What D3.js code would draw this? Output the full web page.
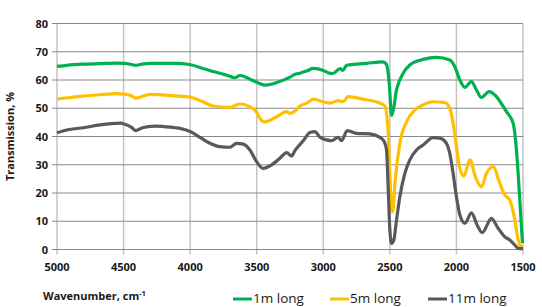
<!DOCTYPE html>
<html>
<head>
<meta charset="utf-8">
<script src="https://cdn.jsdelivr.net/npm/d3@7"></script>
<style>
  body { margin: 0; background: #fff; }
  svg text { font-family: "Open Sans", "Noto Sans", sans-serif; fill: #1a1a1a; }
  .tick-label { font-size: 11px; font-weight: bold; }
  .axis-title { font-size: 11px; font-weight: bold; }
  .legend-label { font-size: 13.5px; }
</style>
</head>
<body>
<div id="chart"></div>
<script>
// wavenumber (cm-1), transmission (%)
const series1m = [
  [5000,64.8],[4927,65.2],[4805,65.6],[4677,65.8],[4552,66.0],[4490,65.9],[4407,65.2],[4350,65.7],
  [4300,65.9],[4114,65.9],[3996,65.4],[3904,64.1],[3850,63.3],[3776,62.4],[3700,61.3],[3664,60.8],
  [3626,61.6],[3551,60.3],[3480,58.8],[3438,58.2],[3350,59.1],[3250,61.0],[3213,62.0],[3176,62.4],
  [3120,63.3],[3076,64.1],[3000,63.4],[2965,62.6],[2928,62.3],[2875,64.0],[2853,63.4],[2825,65.2],
  [2750,65.6],[2675,65.9],[2552,66.4],[2525,65.5],[2505,59.0],[2487,47.5],[2470,50.5],[2450,56.5],
  [2425,60.0],[2400,62.4],[2350,65.3],[2250,67.3],[2150,68.0],[2050,67.1],[2012,64.7],[1974,60.0],
  [1937,57.4],[1887,59.4],[1850,56.5],[1812,53.8],[1755,55.9],[1699,54.1],[1660,51.5],[1624,48.8],
  [1574,44.7],[1549,35.2],[1524,17.5],[1504,2.3]
];
const series5m = [
  [5000,53.3],[4900,53.8],[4805,54.3],[4677,54.8],[4552,55.2],[4490,55.0],[4440,54.4],[4407,53.6],
  [4302,54.9],[4114,54.4],[3996,53.9],[3904,52.3],[3829,50.8],[3701,50.3],[3651,51.2],[3626,51.5],
  [3551,50.6],[3500,48.5],[3476,46.4],[3438,45.2],[3350,47.0],[3275,48.8],[3250,48.2],[3213,49.0],
  [3176,50.8],[3125,51.8],[3076,53.2],[3000,52.3],[2950,51.8],[2888,52.7],[2850,52.3],[2813,54.1],
  [2700,53.2],[2575,51.8],[2537,50.8],[2512,41.0],[2500,26.0],[2487,14.5],[2478,13.3],[2462,23.4],
  [2425,37.6],[2375,45.2],[2312,49.4],[2250,51.2],[2175,52.3],[2087,52.0],[2050,50.0],[2025,44.7],
  [2000,36.4],[1974,28.7],[1944,26.0],[1899,31.7],[1854,25.2],[1812,22.2],[1774,27.0],[1724,29.3],
  [1674,23.4],[1637,19.3],[1599,17.5],[1561,10.4],[1536,3.4],[1511,1.0],[1500,1.0]
];
const series11m = [
  [5000,41.3],[4927,42.3],[4802,43.1],[4677,44.1],[4522,44.7],[4490,44.3],[4440,43.2],[4407,42.1],
  [4352,43.2],[4252,43.7],[4114,43.1],[4077,42.9],[3996,41.7],[3926,39.7],[3851,37.6],[3776,36.4],
  [3701,36.2],[3651,37.6],[3601,37.3],[3551,35.2],[3501,31.1],[3451,28.7],[3401,29.6],[3326,32.3],
  [3275,34.3],[3238,33.1],[3213,35.0],[3200,35.8],[3151,38.5],[3100,41.4],[3063,41.7],[3025,39.7],
  [2975,38.8],[2938,38.5],[2888,39.7],[2863,38.5],[2820,42.1],[2750,41.1],[2650,40.9],[2575,39.7],
  [2542,38.2],[2525,35.2],[2512,21.1],[2500,6.9],[2487,2.2],[2470,3.4],[2450,10.4],[2425,18.7],
  [2387,27.0],[2350,31.7],[2300,35.2],[2250,37.0],[2175,39.6],[2125,39.4],[2075,37.6],[2050,34.0],
  [2025,27.0],[2000,18.7],[1974,12.2],[1937,9.3],[1887,13.0],[1845,8.7],[1805,6.0],[1737,11.0],
  [1687,7.5],[1637,4.5],[1599,3.4],[1554,1.2],[1536,0.4],[1500,0.3]
];
const seriesNames = ['1m long', '5m long', '11m long'];
const seriesColors = ['#00b050', '#ffc000', '#595959'];
const xTicks = [5000, 4500, 4000, 3500, 3000, 2500, 2000, 1500];
const yTicks = [0, 10, 20, 30, 40, 50, 60, 70, 80];

const width = 542, height = 307;
const margin = {top: 23.5, right: 19, bottom: 57.5, left: 57};

const svg = d3.select('#chart').append('svg')
    .attr('width', width)
    .attr('height', height);

const x = d3.scaleLinear()
    .domain([5000, 1500])
    .range([margin.left, width - margin.right]);

const y = d3.scaleLinear()
    .domain([0, 80])
    .range([height - margin.bottom, margin.top]);

// vertical grid (light)
svg.append('g')
    .selectAll('line')
    .data(xTicks)
    .join('line')
    .attr('x1', d => x(d)).attr('x2', d => x(d))
    .attr('y1', y(80)).attr('y2', y(0) + 5)
    .attr('stroke', '#c4c4c4')
    .attr('stroke-width', 1.5);

// horizontal grid (darker)
svg.append('g')
    .selectAll('line')
    .data(yTicks)
    .join('line')
    .attr('x1', x(5000) - 5).attr('x2', x(1500))
    .attr('y1', d => y(d)).attr('y2', d => y(d))
    .attr('stroke', '#8a8a8a')
    .attr('stroke-width', 1);

// tick labels
svg.append('g')
    .selectAll('text')
    .data(yTicks)
    .join('text')
    .attr('class', 'tick-label')
    .attr('x', x(5000) - 9)
    .attr('y', d => y(d) + 4)
    .attr('text-anchor', 'end')
    .text(d => d);

svg.append('g')
    .selectAll('text')
    .data(xTicks)
    .join('text')
    .attr('class', 'tick-label')
    .attr('x', d => x(d))
    .attr('y', y(0) + 21)
    .attr('text-anchor', 'middle')
    .text(d => d);

// lines
const line = d3.line()
    .x(d => x(d[0]))
    .y(d => y(d[1]))
    .curve(d3.curveMonotoneX);

[series1m, series5m, series11m].forEach((s, i) => {
  svg.append('path')
      .datum(s)
      .attr('fill', 'none')
      .attr('stroke', seriesColors[i])
      .attr('stroke-width', 3.2)
      .attr('stroke-linejoin', 'round')
      .attr('d', line);
});

// axis titles
svg.append('text')
    .attr('class', 'axis-title')
    .attr('transform', `translate(14,${(y(0) + y(80)) / 2}) rotate(-90)`)
    .attr('text-anchor', 'middle')
    .text('Transmission, %');

const xt = svg.append('text')
    .attr('class', 'axis-title')
    .attr('x', 43)
    .attr('y', 300);
xt.append('tspan').text('Wavenumber, cm');
xt.append('tspan').attr('dy', -4).attr('font-size', '7.5px').text('-1');

// legend
const legendX = [233, 330, 428];
const legend = svg.append('g');
seriesNames.forEach((name, i) => {
  legend.append('line')
      .attr('x1', legendX[i]).attr('x2', legendX[i] + 19)
      .attr('y1', 299).attr('y2', 299)
      .attr('stroke', seriesColors[i])
      .attr('stroke-width', 3);
  legend.append('text')
      .attr('class', 'legend-label')
      .attr('x', legendX[i] + 20)
      .attr('y', 303)
      .text(name);
});
</script>
</body>
</html>
